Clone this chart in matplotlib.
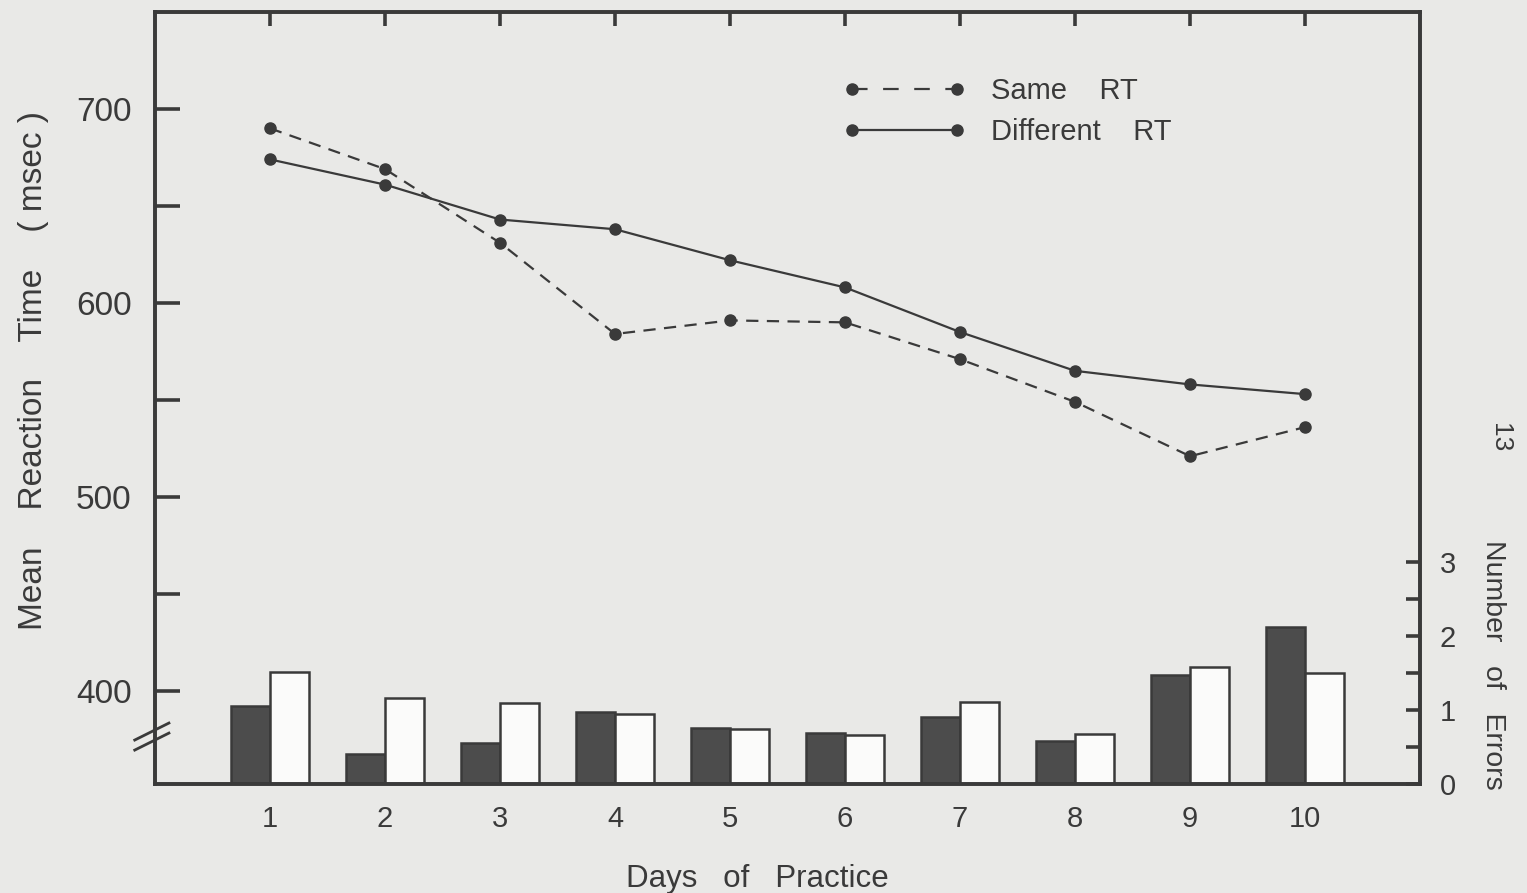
import matplotlib
matplotlib.use("Agg")
import matplotlib.pyplot as plt
from matplotlib.lines import Line2D
import numpy as np

plt.rcParams['font.family'] = ['Liberation Sans', 'DejaVu Sans']

days = [1, 2, 3, 4, 5, 6, 7, 8, 9, 10]
same_rt = [690, 669, 631, 584, 591, 590, 571, 549, 521, 536]
diff_rt = [674, 661, 643, 638, 622, 608, 585, 565, 558, 553]
same_err = [1.05, 0.41, 0.55, 0.97, 0.76, 0.69, 0.91, 0.58, 1.47, 2.12]
diff_err = [1.51, 1.16, 1.10, 0.95, 0.74, 0.66, 1.11, 0.68, 1.58, 1.50]
rt_ticks = [400, 500, 600, 700]
err_ticks = [0, 1, 2, 3]

ink = '#3a3a3a'
paper = '#e9e9e7'

fig = plt.figure(figsize=(15.27, 8.93), dpi=100, facecolor=paper)
ax = fig.add_axes([0.1015, 0.122, 0.8285, 0.8646])
ax.set_facecolor(paper)
ax2 = ax.twinx()

x = np.array(days, dtype=float)
w = 0.34

# error bars (right axis)
ax2.bar(x - w / 2, same_err, width=w, color='#4c4c4c', edgecolor=ink, linewidth=1.8, zorder=2)
ax2.bar(x + w / 2, diff_err, width=w, color='#fbfbfa', edgecolor=ink, linewidth=1.8, zorder=2)

# RT lines (left axis)
ax.plot(x, same_rt, color=ink, lw=1.6, ls=(0, (5.5, 3.8)), marker='o', ms=8, zorder=3)
ax.plot(x, diff_rt, color=ink, lw=1.6, ls='-', marker='o', ms=8, zorder=3)
ax.set_zorder(ax2.get_zorder() + 1)
ax.patch.set_visible(False)
ax2.patch.set_visible(True)
ax2.patch.set_facecolor(paper)

ax.set_xlim(0, 11)
ax.set_ylim(352, 750)
ax2.set_ylim(0, 10.43)

for a in (ax, ax2):
    for s in a.spines.values():
        s.set_linewidth(2.6)
        s.set_color(ink)

ax.set_yticks(rt_ticks)
ax.set_yticks([450, 550, 650], minor=True)
ax.set_yticklabels([str(t) for t in rt_ticks], fontsize=24, color=ink)
ax.tick_params(axis='y', which='both', direction='in', length=18, width=2.6,
               color=ink, pad=17, right=False)

ax.set_xticks(days)
ax.set_xticklabels([str(d) for d in days], fontsize=21, color=ink)
ax.tick_params(axis='x', which='both', direction='in', bottom=False, top=True,
               length=10, width=2.6, color=ink, pad=15)

ax2.set_yticks(err_ticks)
ax2.set_yticks([0.5, 1.5, 2.5], minor=True)
ax2.set_yticklabels([str(t) for t in err_ticks], fontsize=21, color=ink)
ax2.tick_params(axis='y', which='both', direction='in', length=10, width=2.6,
                color=ink, pad=14)

ax.set_ylabel('Mean    Reaction    Time    ( msec )', fontsize=24, color=ink)
ax.yaxis.set_label_coords(-0.084, 0.536)
ax.set_xlabel('Days   of   Practice', fontsize=22.5, color=ink)
ax.xaxis.set_label_coords(0.476, -0.103)
ax2.set_ylabel('Number   of   Errors', fontsize=20.5, color=ink, rotation=-90)
ax2.yaxis.set_label_coords(1.068, 0.155)

fig.text(0.982, 0.51, '13', fontsize=19, color=ink, rotation=-90, ha='center', va='center')

# axis break marks
for dy in (0.0, 0.013):
    ax.plot([-0.016, 0.011], [0.044 + dy, 0.066 + dy], transform=ax.transAxes,
            color=ink, lw=2.0, clip_on=False, zorder=5)

handles = [
    Line2D([], [], color=ink, lw=1.6, ls=(0, (7, 7)), marker='o', ms=8),
    Line2D([], [], color=ink, lw=1.6, ls='-', marker='o', ms=8),
]
ax.legend(handles, ['Same    RT', 'Different    RT'], loc='upper left',
          bbox_to_anchor=(0.5235, 0.95), frameon=False, numpoints=2,
          handlelength=4.2, handletextpad=0.85, labelspacing=0.45,
          prop={'size': 21}, labelcolor=ink)

fig.savefig('out.png', dpi=100, facecolor=paper)
